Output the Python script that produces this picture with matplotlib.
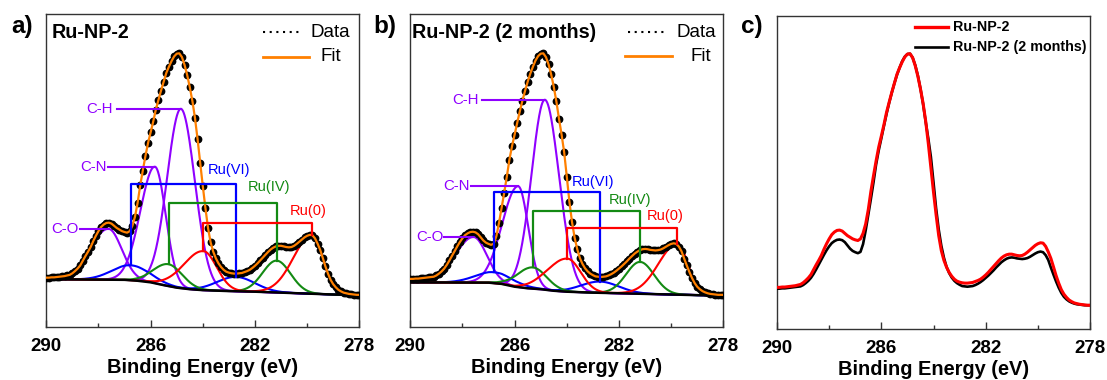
import numpy as np
import matplotlib
matplotlib.use("Agg")
import matplotlib.pyplot as plt
from matplotlib.ticker import FixedLocator

plt.rcParams['font.family'] = ['Liberation Sans', 'DejaVu Sans']

# ---------------- data ----------------
# measured binding-energy grid (eV), 0.1 eV step from 290.0 to 278.0
energy = np.round(np.arange(290.0, 277.95, -0.1), 1)

# C1s / Ru3d spectrum, Ru-NP-2 (fresh)
int_fresh = [
    15.7, 15.7, 15.8, 15.8, 15.9, 16.0, 16.1, 16.2, 16.4, 16.6,
    17.1, 17.8, 18.6, 19.6, 21.1, 22.6, 24.0, 25.5, 27.4, 29.1,
    30.6, 31.9, 32.7, 33.2, 33.3, 33.0, 32.3, 31.6, 31.1, 30.6,
    30.3, 30.1, 30.6, 32.3, 35.2, 39.6, 45.2, 50.0, 54.6, 58.8,
    62.2, 65.7, 69.5, 72.6, 75.6, 78.4, 81.2, 83.2, 85.0, 86.5,
    87.4, 87.5, 86.3, 83.8, 80.6, 76.7, 72.3, 66.8, 60.0, 52.5,
    45.0, 38.0, 31.6, 27.0, 24.0, 21.9, 20.3, 19.1, 18.2, 17.6,
    17.3, 17.1, 17.0, 17.0, 17.1, 17.2, 17.5, 17.8, 18.2, 18.8,
    19.5, 20.3, 21.2, 22.1, 23.0, 23.9, 24.7, 25.3, 25.7, 25.9,
    25.9, 25.7, 25.5, 25.4, 25.5, 25.9, 26.5, 27.2, 27.9, 28.6,
    29.1, 29.4, 29.3, 28.3, 26.6, 24.6, 22.0, 19.3, 17.0, 15.0,
    13.6, 12.6, 11.8, 11.3, 10.9, 10.7, 10.5, 10.4, 10.3, 10.2,
    10.2]

# Ru-NP-2 after 2 months
int_aged = [
    15.3, 15.3, 15.4, 15.4, 15.5, 15.6, 15.7, 15.8, 15.9, 16.0,
    16.4, 17.0, 17.7, 18.6, 19.8, 21.2, 22.7, 24.2, 25.7, 27.1,
    28.3, 29.3, 29.9, 30.3, 30.4, 30.2, 29.6, 28.6, 27.6, 26.9,
    26.5, 26.2, 26.6, 29.0, 33.2, 38.0, 42.9, 48.0, 53.5, 57.8,
    61.5, 65.3, 69.0, 72.4, 75.5, 78.4, 81.0, 83.2, 85.2, 86.6,
    87.4, 87.5, 86.3, 84.0, 80.8, 76.8, 72.1, 66.6, 61.5, 55.8,
    48.0, 40.0, 33.5, 28.5, 24.8, 22.0, 20.1, 18.7, 17.7, 17.0,
    16.5, 16.1, 16.0, 15.9, 16.0, 16.1, 16.4, 16.8, 17.3, 17.9,
    18.6, 19.3, 20.1, 20.9, 21.8, 22.6, 23.4, 24.0, 24.5, 24.8,
    24.9, 24.8, 24.6, 24.5, 24.4, 24.5, 24.7, 25.1, 25.6, 26.1,
    26.5, 26.7, 26.5, 25.6, 24.1, 21.8, 19.6, 17.5, 15.6, 14.0,
    12.8, 12.0, 11.4, 11.0, 10.7, 10.5, 10.4, 10.3, 10.2, 10.2,
    10.2]

# Shirley backgrounds
bg_energy = [290.0, 287.0, 286.5, 286.0, 285.5, 285.0, 284.5, 284.0, 283.0, 282.0, 281.0, 280.0, 279.0, 278.0]
bg_fresh = [15.2, 15.0, 14.7, 14.2, 13.3, 12.5, 12.0, 11.7, 11.4, 11.2, 10.9, 10.6, 10.3, 10.1]
bg_aged = [14.2, 14.1, 13.7, 12.8, 12.3, 12.0, 11.5, 11.2, 10.9, 10.7, 10.5, 10.3, 10.1, 10.0]

# fitted components (peak table): species, position (eV), height above background,
# half width at half maximum on the high-BE / low-BE side
peak_species = ['C-O', 'C-N', 'C-H', 'Ru(VI)', 'Ru(VI)', 'Ru(IV)', 'Ru(IV)', 'Ru(0)', 'Ru(0)']
peak_pos_fresh = [287.62, 285.83, 284.84, 286.76, 282.73, 285.31, 281.17, 283.98, 279.80]
peak_height_fresh = [16.3, 37.3, 57.4, 4.8, 4.6, 7.0, 10.2, 12.5, 18.8]
peak_hwl_fresh = [0.82, 0.66, 0.62, 0.85, 0.85, 0.68, 0.63, 0.90, 0.85]
peak_hwr_fresh = [0.60, 0.48, 0.63, 0.85, 0.85, 0.63, 0.63, 0.60, 0.48]

peak_pos_aged = [287.58, 285.86, 284.84, 286.79, 282.73, 285.31, 281.19, 283.98, 279.76]
peak_height_aged = [14.6, 32.3, 60.8, 3.5, 3.6, 6.8, 10.2, 10.6, 16.2]
peak_hwl_aged = [0.82, 0.72, 0.60, 0.85, 0.85, 0.68, 0.63, 0.90, 0.85]
peak_hwr_aged = [0.60, 0.45, 0.64, 0.85, 0.85, 0.63, 0.63, 0.60, 0.48]

species_order = ['C-O', 'C-N', 'C-H', 'Ru(VI)', 'Ru(IV)', 'Ru(0)']
x_ticks = [290, 286, 282, 278]
x_minor = [288, 284, 280]
titles = ['Ru-NP-2', 'Ru-NP-2 (2 months)']
panel_tags = ['a)', 'b)', 'c)']

# ---------------- styles / layout ----------------
species_color = {'C-O': '#8f00ff', 'C-N': '#8f00ff', 'C-H': '#8f00ff',
                 'Ru(VI)': '#0000ff', 'Ru(IV)': '#138a13', 'Ru(0)': '#ff0000'}
ORANGE = '#ff8000'
FRAME = '#333333'

# C-label: (text right edge eV, line start eV)
clabel_fresh = {'C-O': (288.77, 288.72), 'C-N': (287.70, 287.65), 'C-H': (287.45, 287.28)}
clabel_aged = {'C-O': (288.73, 288.70), 'C-N': (287.71, 287.68), 'C-H': (287.39, 287.24)}
# Ru brackets: level, label (x, y)
ru_fresh = {'Ru(VI)': (45.7, 283.00, 50.3), 'Ru(IV)': (39.5, 281.47, 44.6), 'Ru(0)': (33.3, 279.97, 37.1)}
ru_aged = {'Ru(VI)': (43.2, 283.00, 46.3), 'Ru(IV)': (37.1, 281.58, 40.5), 'Ru(0)': (31.7, 280.22, 35.5)}

W, H = 1107, 380
fig = plt.figure(figsize=(W / 100, H / 100), dpi=100)


def ax_at(left, top, right, bottom):
    return fig.add_axes([left / W, 1 - bottom / H, (right - left) / W, (bottom - top) / H])


ax_a = ax_at(46.3, 14.3, 359.3, 326.7)
ax_b = ax_at(410.3, 14.3, 723.3, 326.7)
ax_c = ax_at(777.0, 16.0, 1090.0, 329.0)


def style_axis(ax):
    ax.set_xlim(290, 278)
    ax.set_xticks(x_ticks)
    ax.set_xticklabels([str(t) for t in x_ticks], fontsize=13.5, fontweight='bold')
    ax.xaxis.set_minor_locator(FixedLocator(x_minor))
    ax.tick_params(axis='x', which='major', direction='in', length=5, width=1.0, pad=8, colors=FRAME,
                   labelcolor='black')
    ax.tick_params(axis='x', which='minor', direction='in', length=3, width=1.0, colors=FRAME)
    ax.set_yticks([])
    for s in ax.spines.values():
        s.set_color(FRAME)
        s.set_linewidth(1.0)
    ax.set_xlabel('Binding Energy (eV)', fontsize=14.4, fontweight='bold', labelpad=2)


fine = np.linspace(290, 278, 1201)


def component(bgE, bgI, pos, hgt, hwl, hwr, idx):
    base = np.interp(fine, bgE[::-1], bgI[::-1])
    y = base.copy()
    for i in idx:
        hw = np.where(fine >= pos[i], hwl[i], hwr[i])
        sig = hw / np.sqrt(2 * np.log(2))
        y += hgt[i] * np.exp(-0.5 * ((fine - pos[i]) / sig) ** 2)
    return y


def fit_panel(ax, inten, bg, pos, hgt, hwl, hwr, clab, ru, title, leg):
    ax.set_ylim(0, 100)
    bgE = np.array(bg_energy)
    bgI = np.array(bg)
    base_at = lambda e: float(np.interp(e, bgE[::-1], bgI[::-1]))
    for sp in species_order:
        idx = [i for i, s in enumerate(peak_species) if s == sp]
        ax.plot(fine, component(bgE, bgI, pos, hgt, hwl, hwr, idx), color=species_color[sp], lw=1.5, zorder=2)
    ax.plot(bg_energy, bg, color='black', lw=1.8, zorder=3)
    ax.plot(energy, inten, linestyle='none', marker='o', ms=4.6, color='black', zorder=4)
    ax.plot(energy, inten, color=ORANGE, lw=1.6, zorder=5)
    # C labels
    for sp in ['C-O', 'C-N', 'C-H']:
        i = peak_species.index(sp)
        ytop = base_at(pos[i]) + hgt[i]
        tx, lx = clab[sp]
        ax.plot([lx, pos[i]], [ytop, ytop], color=species_color[sp], lw=1.5, zorder=6)
        ax.text(tx, ytop, sp, color=species_color[sp], fontsize=10.8, ha='right', va='center', zorder=7)
    # Ru brackets
    for sp in ['Ru(VI)', 'Ru(IV)', 'Ru(0)']:
        i1, i2 = [i for i, s in enumerate(peak_species) if s == sp]
        lvl, lxp, lyp = ru[sp]
        y1 = base_at(pos[i1]) + hgt[i1]
        y2 = base_at(pos[i2]) + hgt[i2]
        ax.plot([pos[i1], pos[i1], pos[i2], pos[i2]], [y1, lvl, lvl, y2], color=species_color[sp], lw=1.6,
                zorder=6)
        ax.text(lxp, lyp, sp, color=species_color[sp], fontsize=10.5, ha='center', va='center', zorder=7)
    # title
    ax.text(title[1], 0.9418, title[0], transform=ax.transAxes, fontsize=14.2, fontweight='bold',
            ha='left', va='center')
    # legend
    (dx0, dx1, dtx, dy), (fx0, fx1, ftx, fy) = leg
    ax.plot([dx0, dx1], [dy, dy], transform=ax.transAxes, color='black', lw=1.5,
            linestyle=(0, (1, 2.2)), zorder=8)
    ax.text(dtx, dy, 'Data', transform=ax.transAxes, fontsize=13.5, ha='left', va='center')
    ax.plot([fx0, fx1], [fy, fy], transform=ax.transAxes, color=ORANGE, lw=2.0, zorder=8)
    ax.text(ftx, fy, 'Fit', transform=ax.transAxes, fontsize=13.5, ha='left', va='center')


fit_panel(ax_a, int_fresh, bg_fresh, peak_pos_fresh, peak_height_fresh, peak_hwl_fresh, peak_hwr_fresh,
          clabel_fresh, ru_fresh, (titles[0], 0.0173),
          ((0.692, 0.817, 0.8425, 0.942), (0.6923, 0.8393, 0.8776, 0.864)))
fit_panel(ax_b, int_aged, bg_aged, peak_pos_aged, peak_height_aged, peak_hwl_aged, peak_hwr_aged,
          clabel_aged, ru_aged, (titles[1], 0.0045),
          ((0.6955, 0.8233, 0.8489, 0.942), (0.686, 0.835, 0.8955, 0.866)))

# panel c: overlay of both spectra
ax_c.set_ylim(2.9, 99.1)
ax_c.plot(energy, int_aged, color='black', lw=1.9, zorder=3)
ax_c.plot(energy, int_fresh, color='#ff0000', lw=2.2, zorder=4)
ax_c.plot([0.441, 0.546], [0.966, 0.966], transform=ax_c.transAxes, color='#ff0000', lw=2.4)
ax_c.plot([0.441, 0.546], [0.902, 0.902], transform=ax_c.transAxes, color='black', lw=1.9)
ax_c.text(0.561, 0.966, 'Ru-NP-2', transform=ax_c.transAxes, fontsize=10.3, fontweight='bold', va='center')
ax_c.text(0.561, 0.902, 'Ru-NP-2 (2 months)', transform=ax_c.transAxes, fontsize=10.3, fontweight='bold',
          va='center')

for ax in (ax_a, ax_b, ax_c):
    style_axis(ax)

for tag, xpx in zip(panel_tags, [11.7, 373.3, 741.0]):
    fig.text(xpx / W, 1 - 33.5 / H, tag, fontsize=17.5, fontweight='bold', ha='left', va='baseline')

fig.savefig('out.png', dpi=100)
